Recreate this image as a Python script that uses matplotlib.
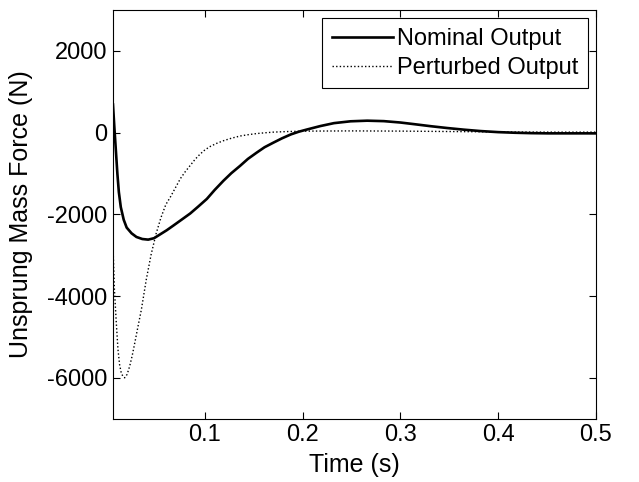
import matplotlib
matplotlib.use('Agg')
import matplotlib.pyplot as plt

# Nominal output
t_nom = [0.006, 0.0075, 0.009, 0.0105, 0.012, 0.014, 0.017, 0.020, 0.025, 0.030,
         0.036, 0.042, 0.048, 0.054, 0.061, 0.068, 0.076, 0.085, 0.093, 0.102,
         0.110, 0.119, 0.127, 0.136, 0.144, 0.153, 0.161, 0.170, 0.179, 0.188,
         0.196, 0.205, 0.218, 0.232, 0.249, 0.266, 0.283, 0.300, 0.314, 0.331,
         0.348, 0.365, 0.382, 0.400, 0.417, 0.434, 0.451, 0.475, 0.500]
f_nom = [690, 100, -450, -1000, -1450, -1820, -2130, -2320, -2460, -2550,
         -2600, -2615, -2580, -2490, -2385, -2267, -2130, -1975, -1810, -1619,
         -1400, -1174, -990, -810, -640, -486, -355, -243, -135, -40,
         25, 83, 163, 235, 280, 295, 284, 250, 210, 160,
         115, 75, 41, 15, 0, -10, -15, -15, -15]

# Perturbed output
t_per = [0.006, 0.0075, 0.0094, 0.0111, 0.0128, 0.0145, 0.0165, 0.018, 0.0205, 0.0231,
         0.0257, 0.0283, 0.0315, 0.035, 0.040, 0.045, 0.050, 0.055, 0.060, 0.065,
         0.070, 0.075, 0.080, 0.085, 0.090, 0.095, 0.100, 0.1055, 0.112, 0.119,
         0.127, 0.136, 0.145, 0.153, 0.162, 0.170, 0.185, 0.205, 0.250, 0.300,
         0.350, 0.400, 0.450, 0.500]
f_per = [-2750, -3850, -4650, -5300, -5680, -5880, -5975, -5995, -5910, -5710,
         -5450, -5142, -4750, -4333, -3600, -2980, -2480, -2080, -1760, -1560,
         -1340, -1120, -950, -800, -650, -525, -420, -335, -260, -195,
         -135, -80, -45, -20, 0, 15, 30, 40, 45, 40,
         30, 20, 15, 15]

plt.rcParams['font.family'] = ['Liberation Sans', 'DejaVu Sans']
plt.rcParams['font.size'] = 17
plt.rcParams['axes.unicode_minus'] = False

fig = plt.figure(figsize=(6.39, 4.82), dpi=100)
ax = fig.add_axes([0.1768, 0.131, 0.7559, 0.848])

ax.plot(t_nom, f_nom, color='black', lw=1.9, label='Nominal Output')
ax.plot(t_per, f_per, color='black', lw=1.0, linestyle=(0, (1, 1.6)), label='Perturbed Output')

ax.set_xlim(0.006, 0.5)
ax.set_ylim(-7000, 3000)
ax.set_xticks([0.1, 0.2, 0.3, 0.4, 0.5])
ax.set_xticklabels(['0.1', '0.2', '0.3', '0.4', '0.5'])
ax.set_yticks([-6000, -4000, -2000, 0, 2000])
ax.tick_params(direction='in', top=True, right=True, length=5, width=0.8, pad=4)
for s in ax.spines.values():
    s.set_linewidth(0.8)

ax.set_xlabel('Time (s)', fontsize=18, labelpad=5)
ax.set_ylabel('Unsprung Mass Force (N)', fontsize=18, labelpad=10)

leg = ax.legend(loc='upper right', fancybox=False, edgecolor='black', framealpha=1,
                fontsize=17, handlelength=2.6, handletextpad=0.17, borderpad=0.4,
                labelspacing=0.3, borderaxespad=0.35)
leg.get_frame().set_linewidth(0.8)

fig.savefig('out.png', dpi=100)
